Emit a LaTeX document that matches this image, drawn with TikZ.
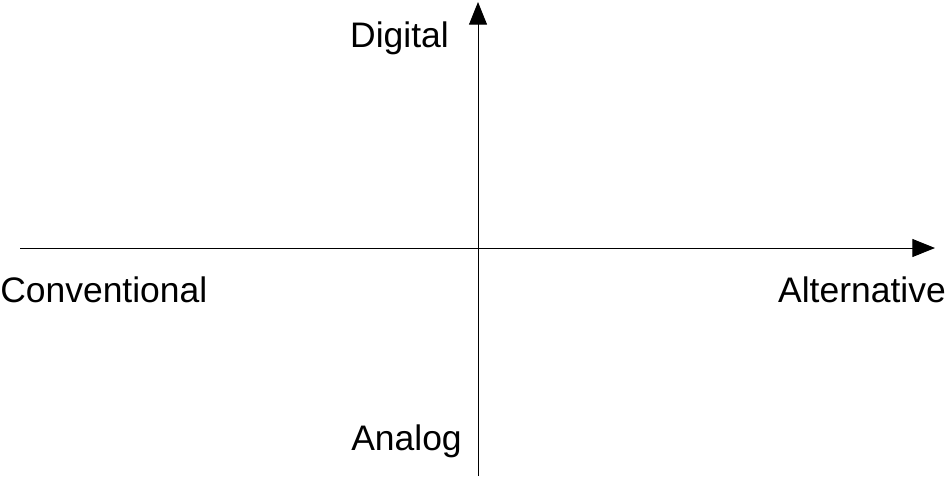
\documentclass[tikz,border=0pt]{standalone}
\usepackage{fontspec}
\setmainfont{Liberation Sans}
\usetikzlibrary{arrows.meta}

\tikzset{
  axis/.style={line width=0.75pt, -{Triangle[length=17pt, width=13.5pt]}},
  pole/.style={inner sep=0pt, font=\fontsize{26.6}{31}\selectfont}
}

\begin{document}
\begin{tikzpicture}[x=0.75pt, y=-0.75pt]
    \useasboundingbox (0,0) rectangle (946,476);
    \coordinate (W) at (20,248);
    \coordinate (E) at (935,248);
    \coordinate (S) at (478,476);
    \coordinate (N) at (478,2);
    \draw[axis] (W) -- (E);
    \draw[axis] (S) -- (N);
    \node[pole, anchor=base east] (digital) at (449,47) {Digital};
    \node[pole, anchor=base east] (analog) at (462,450) {Analog};
    \node[pole, anchor=base west] (conventional) at (0,302) {Conventional};
    \node[pole, anchor=base east] (alternative) at (946,302) {Alternative};
\end{tikzpicture}
\end{document}
